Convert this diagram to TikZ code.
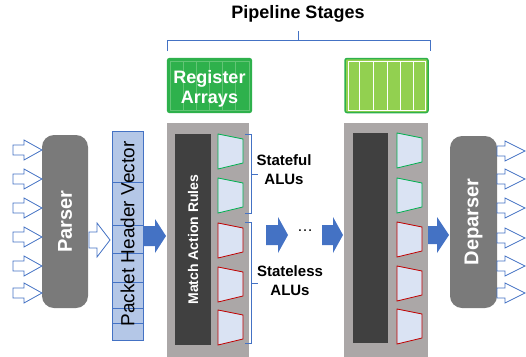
\documentclass[tikz,border=0pt]{standalone}
\usepackage{fontspec}
\setmainfont{Liberation Sans}
\usetikzlibrary{calc}
\definecolor{arrblue}{HTML}{4472C4}
\definecolor{phvfill}{HTML}{B4C7E7}
\definecolor{stagegray}{HTML}{ABA7A7}
\definecolor{darkrule}{HTML}{404040}
\definecolor{parsergray}{HTML}{7A7A7A}
\definecolor{alufill}{HTML}{DAE3F3}
\definecolor{alugreen}{HTML}{00B050}
\definecolor{alured}{HTML}{C00000}
\definecolor{reggreen}{HTML}{2EB14C}
\definecolor{regline}{HTML}{62C575}
\definecolor{reglight}{HTML}{92D050}
\newcommand{\blkarrow}[7]{%
  \draw[#1] (#2,#5-#6) -- (#3,#5-#6) -- (#3,#5-#7) -- (#4,#5) -- (#3,#5+#7) -- (#3,#5+#6) -- (#2,#5+#6) -- cycle;}
\newcommand{\alutrap}[4]{% style, x left, x right, y top
  \draw[#1] (#2,#4) -- (#3,#4+5) -- (#3,#4+29) -- (#2,#4+35) -- cycle;}
\begin{document}
\begin{tikzpicture}[x=1pt,y=-1pt,
  hollowarrow/.style={draw=arrblue, fill=white, line width=0.8pt, line join=miter},
  solidarrow/.style={fill=arrblue, draw=none},
  greenalu/.style={draw=alugreen, fill=alufill, line width=0.8pt},
  redalu/.style={draw=alured, fill=alufill, line width=0.8pt},
  bracket/.style={draw=arrblue, line width=1pt},
  roundbox/.style={fill=parsergray, rounded corners=12pt, draw=none},
  whitelabel/.style={text=white, font=\bfseries\fontsize{20}{22}\selectfont, rotate=90},
  sidelabel/.style={align=center, font=\bfseries\fontsize{15}{19}\selectfont}
]
\useasboundingbox (0,0) rectangle (526,356);

% title and top bracket
\node[font=\bfseries\fontsize{18}{20}\selectfont] (title) at (298,14) {Pipeline Stages};
\draw[bracket] (167,51) -- (167,40) -- (430,40) -- (430,51);
\draw[bracket] (298,40) -- (298,31);

% register arrays
\node[draw=reggreen, fill=reggreen, line width=1.2pt, rounded corners=2pt, minimum width=84pt, minimum height=54pt, inner sep=0pt] (reg1) at (209.5,85.5) {};
\foreach \xx in {183,196,209,222,235} {\draw[regline, line width=0.5pt] (\xx,61) -- (\xx,110);}
\draw[regline, line width=0.5pt] (170,61) rectangle (249,110);
\node[text=white, align=center, font=\bfseries\fontsize{18}{20}\selectfont] (reglabel) at (209.5,89) {Register\\Arrays};
\node[draw=reggreen, fill=reglight, line width=1.5pt, rounded corners=2pt, minimum width=83pt, minimum height=54pt, inner sep=0pt] (reg2) at (386.5,85.5) {};
\foreach \xx in {359,373,387,400,413} {\draw[white, line width=0.8pt] (\xx,61) -- (\xx,110);}
\draw[white, line width=0.8pt] (348,61) rectangle (425,110);

% parser
\node[roundbox, minimum width=46pt, minimum height=173pt, inner sep=0pt] (parser) at (65,221.5) {};
\node[whitelabel] (parserlabel) at (parser.center) {Parser};
\foreach \yy in {150,179,208,237,266,293} {\blkarrow{hollowarrow}{13}{24}{42}{\yy}{5}{10}}
\blkarrow{hollowarrow}{89}{97}{110}{240}{8}{17}

% packet header vector
\node[draw=arrblue, fill=phvfill, line width=0.8pt, minimum width=31pt, minimum height=209pt, inner sep=0pt] (phv) at (127.5,235.5) {};
\foreach \yy in {182,225,253,282,308,323} {\draw[arrblue, line width=0.6pt] (112,\yy) -- (143,\yy);}
\node[rotate=90, font=\fontsize{19}{21}\selectfont] (phvlabel) at (127.5,234) {Packet Header Vector};
\blkarrow{solidarrow}{144}{155}{166}{236}{10}{17}

% stage 1
\node[fill=stagegray, minimum width=82pt, minimum height=240pt, inner sep=0pt] (stage1) at (208,243) {};
\node[fill=darkrule, minimum width=36pt, minimum height=211pt, inner sep=0pt] (mar1) at (193,239.5) {};
\node[rotate=90, text=white, font=\bfseries\fontsize{14}{16}\selectfont] (marlabel) at (mar1.center) {Match Action Rules};
\alutrap{greenalu}{218}{243}{134}
\alutrap{greenalu}{218}{243}{178}
\alutrap{redalu}{218}{243}{223}
\alutrap{redalu}{218}{243}{267}
\alutrap{redalu}{218}{243}{310}

% side brackets
\draw[bracket] (245,134) -- (251,134) -- (251,213) -- (245,213);
\draw[bracket] (251,174) -- (258,174);
\draw[bracket] (245,222) -- (251,222) -- (251,343) -- (245,343);
\draw[bracket] (251,283) -- (258,283);
\node[sidelabel] (stateful) at (284,169.5) {Stateful\\ALUs};
\node[sidelabel] (stateless) at (290,281) {Stateless\\ALUs};

% middle arrows
\blkarrow{solidarrow}{266}{278}{288}{235}{10}{18}
\node[font=\fontsize{16}{18}\selectfont] (dots) at (305,231) {\dots};
\blkarrow{solidarrow}{322}{333}{343}{235}{10}{18}

% stage 2
\node[fill=stagegray, minimum width=84pt, minimum height=240pt, inner sep=0pt] (stage2) at (386,243) {};
\node[fill=darkrule, minimum width=35pt, minimum height=210pt, inner sep=0pt] (mar2) at (370.5,238) {};
\alutrap{greenalu}{397}{422}{133}
\alutrap{greenalu}{397}{422}{178}
\alutrap{redalu}{397}{422}{222}
\alutrap{redalu}{397}{422}{266}
\alutrap{redalu}{397}{422}{309}
\blkarrow{solidarrow}{428}{437}{449}{235}{9}{18}

% deparser
\node[roundbox, minimum width=47pt, minimum height=172pt, inner sep=0pt] (deparser) at (473.5,222) {};
\node[whitelabel] (deparserlabel) at (deparser.center) {Deparser};
\foreach \yy in {151,179,208,238,266,293} {\blkarrow{hollowarrow}{497}{505}{525}{\yy}{5}{10}}
\end{tikzpicture}
\end{document}
